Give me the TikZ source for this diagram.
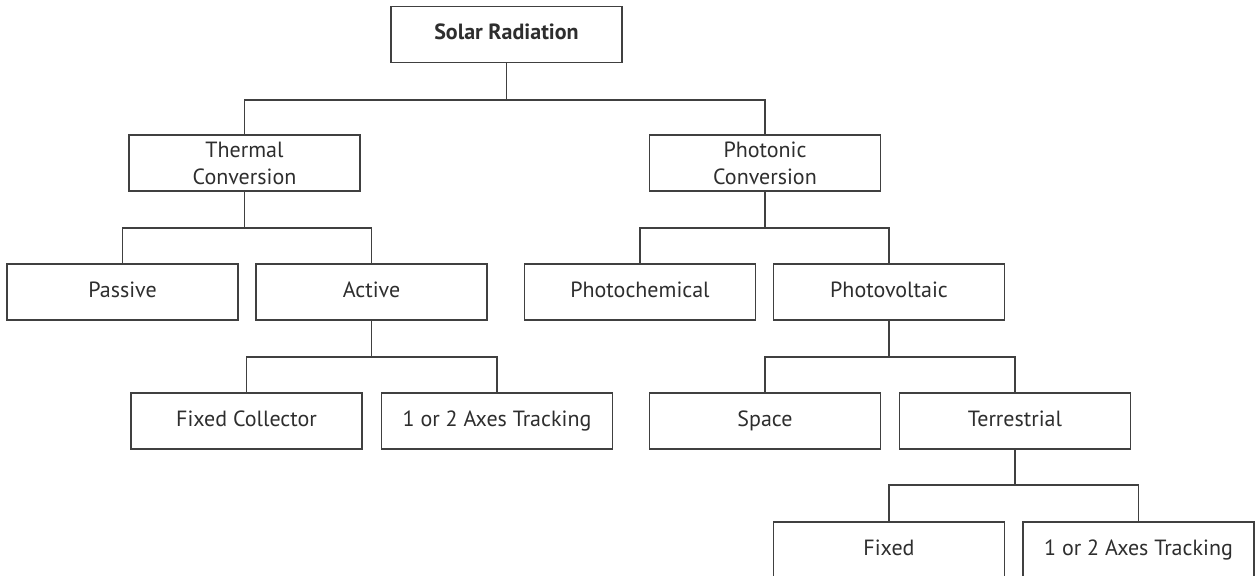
\documentclass[tikz,border=0pt]{standalone}
\usepackage{fontspec}
\setmainfont{PT Sans}
\definecolor{linegray}{HTML}{404040}
\definecolor{textgray}{HTML}{2e2e2e}
\tikzset{
  basebox/.style={draw=linegray, line width=0.9pt, fill=white, text=textgray,
    minimum width=115.5pt, minimum height=28pt, inner sep=0pt, align=center,
    font=\fontsize{11}{13.5}\selectfont},
  box/.style={basebox, execute at begin node=\strut},
  twoline/.style={basebox},
  link/.style={draw=linegray, line width=0.9pt}
}
\begin{document}
\begin{tikzpicture}[x=0.5pt,y=-0.5pt]
\useasboundingbox (0,0) rectangle (1257,576);

% top
\node[box] (solar) at (506.5,34.5) {\textbf{Solar Radiation}};

\node[twoline] (thermal) at (244.5,163) {Thermal\\Conversion};
\node[twoline] (photonic) at (765,163) {Photonic\\Conversion};

\node[box] (passive) at (122.5,292) {Passive};
\node[box] (active) at (371.5,292) {Active};
\node[box] (photochem) at (640,292) {Photochemical};
\node[box] (photovolt) at (889,292) {Photovoltaic};

\node[box] (fixedcoll) at (246.5,421) {Fixed Collector};
\node[box] (trackleft) at (497,421) {1 or 2 Axes Tracking};
\node[box] (space) at (765,421) {Space};
\node[box] (terrestrial) at (1015,421) {Terrestrial};

% bottom row
\node[box] (fixed) at (889,550) {Fixed};
\node[box] (trackright) at (1138.5,550) {1 or 2 Axes Tracking};

\draw[link] (solar.south) -- ++(0,37) -| (thermal.north);
\draw[link] (solar.south) ++(0,37) -| (photonic.north);

\draw[link] (thermal.south) -- ++(0,36.5) -| (passive.north);
\draw[link] (thermal.south) ++(0,36.5) -| (active.north);

\draw[link] (photonic.south) -- ++(0,36.5) -| (photochem.north);
\draw[link] (photonic.south) ++(0,36.5) -| (photovolt.north);

\draw[link] (active.south) -- ++(0,36.5) -| (fixedcoll.north);
\draw[link] (active.south) ++(0,36.5) -| (trackleft.north);

\draw[link] (photovolt.south) -- ++(0,36.5) -| (space.north);
\draw[link] (photovolt.south) ++(0,36.5) -| (terrestrial.north);

% right one
\draw[link] (terrestrial.south) -- ++(0,35.5) -| (fixed.north);
\draw[link] (terrestrial.south) ++(0,35.5) -| (trackright.north);
\end{tikzpicture}
\end{document}
